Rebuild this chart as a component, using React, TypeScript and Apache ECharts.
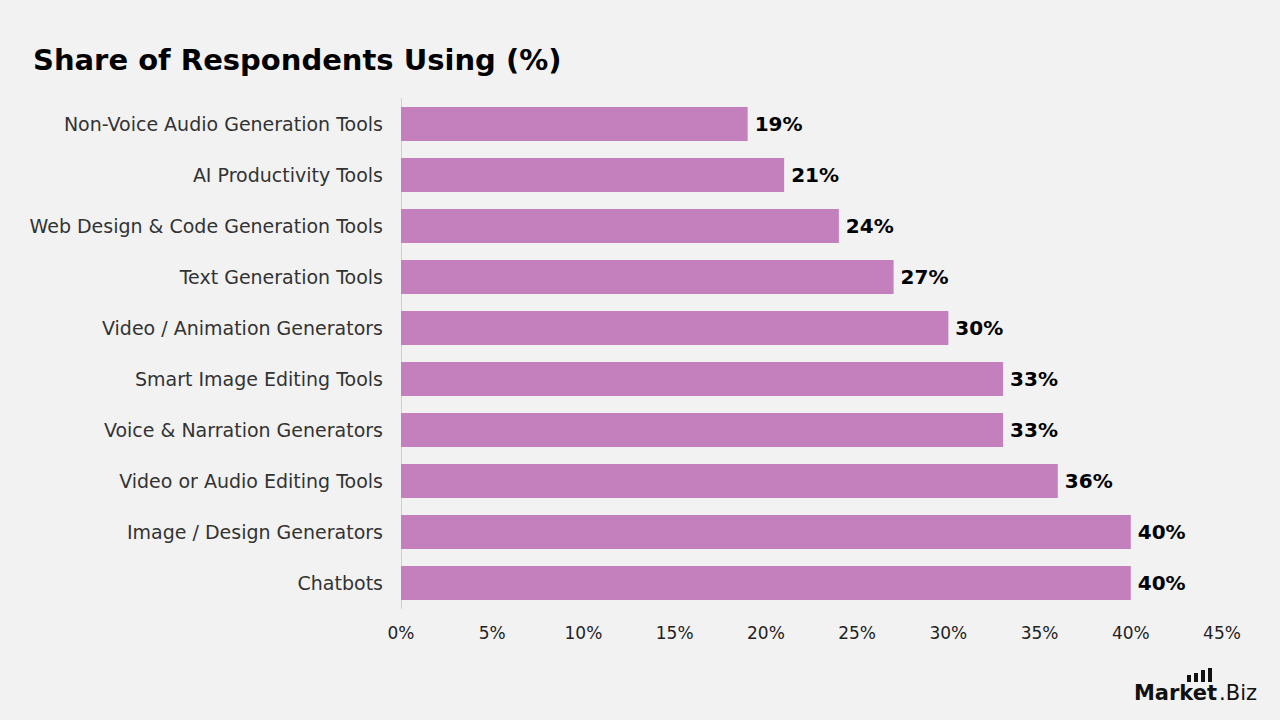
import React, { useEffect, useRef } from "react";
import * as echarts from "echarts";

const categories = [
  "Non-Voice Audio Generation Tools",
  "AI Productivity Tools",
  "Web Design & Code Generation Tools",
  "Text Generation Tools",
  "Video / Animation Generators",
  "Smart Image Editing Tools",
  "Voice & Narration Generators",
  "Video or Audio Editing Tools",
  "Image / Design Generators",
  "Chatbots",
];
const values = [19, 21, 24, 27, 30, 33, 33, 36, 40, 40];
const xTicks = [0, 5, 10, 15, 20, 25, 30, 35, 40, 45];

const FONT = "'DejaVu Sans', Inter, sans-serif";

export default function App() {
  const ref = useRef<HTMLDivElement>(null);
  useEffect(() => {
    if (!ref.current) return;
    const chart = echarts.init(ref.current, null, { renderer: "svg" });
    chart.setOption({
      animation: false,
      backgroundColor: "#f2f2f2",
      title: {
        text: "Share of Respondents Using (%)",
        left: 28,
        top: 40,
        textStyle: { fontFamily: FONT, fontSize: 29, fontWeight: "bold", color: "#000" },
      },
      grid: { left: 401, right: 58, top: 98.5, bottom: 111.5, containLabel: false },
      xAxis: {
        type: "value",
        min: xTicks[0],
        max: xTicks[xTicks.length - 1],
        interval: 5,
        axisLine: { show: false },
        axisTick: { show: false },
        splitLine: { show: false },
        axisLabel: {
          formatter: "{value}%",
          fontFamily: FONT,
          fontSize: 17,
          color: "#222",
          margin: 16,
        },
      },
      yAxis: {
        type: "category",
        data: categories,
        inverse: true,
        axisLine: { show: true, lineStyle: { color: "#d0d0d0", width: 1 } },
        axisTick: { show: false },
        axisLabel: {
          fontFamily: FONT,
          fontSize: 19,
          color: "#333",
          margin: 18,
        },
      },
      series: [
        {
          type: "bar",
          data: values,
          barWidth: 34,
          itemStyle: { color: "#c47fbd" },
          label: {
            show: true,
            position: "right",
            distance: 7,
            formatter: "{c}%",
            fontFamily: FONT,
            fontSize: 20,
            fontWeight: "bold",
            color: "#000",
          },
        },
      ],
      graphic: [
        { type: "rect", shape: { x: 1187, y: 675, width: 4, height: 7 }, style: { fill: "#111" } },
        { type: "rect", shape: { x: 1194, y: 673, width: 4, height: 9 }, style: { fill: "#111" } },
        { type: "rect", shape: { x: 1201, y: 670, width: 4, height: 12 }, style: { fill: "#111" } },
        { type: "rect", shape: { x: 1208, y: 668, width: 4, height: 14 }, style: { fill: "#111" } },
        {
          type: "text",
          x: 1217,
          y: 703,
          style: {
            text: "Market",
            font: `bold 21px ${FONT}`,
            fill: "#111",
            textAlign: "right",
            textVerticalAlign: "bottom",
          },
        },
        {
          type: "text",
          x: 1257,
          y: 703,
          style: {
            text: ".Biz",
            font: `normal 21px ${FONT}`,
            fill: "#111",
            textAlign: "right",
            textVerticalAlign: "bottom",
          },
        },
      ],
    });
    return () => chart.dispose();
  }, []);
  return <div ref={ref} style={{ width: 1280, height: 720, position: "absolute", left: 0, top: 0 }} />;
}
